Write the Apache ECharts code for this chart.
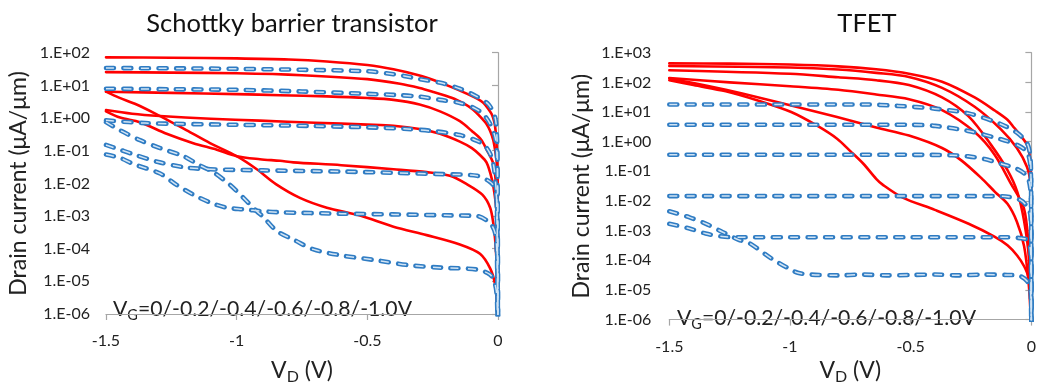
<!DOCTYPE html>
<html>
<head>
<meta charset="utf-8">
<script src="https://cdn.jsdelivr.net/npm/echarts@6/dist/echarts.min.js"></script>
<style>
html,body{margin:0;padding:0;background:#fff;}
#c{width:1039px;height:390px;}
</style>
</head>
<body>
<div id="c"></div>
<script>
// ---------- DATA (VD in volts, ID in µA/µm) ----------
const titles = ['Schottky barrier transistor', 'TFET'];
const xTicks = [-1.5, -1, -0.5, 0];

// Schottky barrier transistor - solid red
const sbRed1 = [[-1.5,72],[-1.25,70],[-1.0,67],[-0.8,62],[-0.655,54],[-0.5,42],[-0.4,31],[-0.3,20],[-0.247,14.5],[-0.18,9],[-0.12,5.6],[-0.08,3.9],[-0.056,2.9],[-0.035,1.8],[-0.024,1.3],[-0.015,0.8],[-0.011,0.55],[-0.006,0.2],[-0.003,0.05],[-0.001,0.005],[0,1e-7]];
const sbRed2 = [[-1.5,25.5],[-1.25,24.5],[-1.0,23.5],[-0.75,20.5],[-0.5,15.5],[-0.375,11.2],[-0.3,8.3],[-0.247,6.3],[-0.2,4.8],[-0.158,3.6],[-0.12,2.5],[-0.095,1.8],[-0.07,1.15],[-0.044,0.66],[-0.03,0.4],[-0.018,0.21],[-0.01,0.09],[-0.005,0.044],[-0.002,0.01],[0,1e-7]];
const sbRed3 = [[-1.5,6.4],[-1.25,5.9],[-1.0,5.4],[-0.834,5.0],[-0.655,4.6],[-0.5,4.1],[-0.4,3.6],[-0.3,2.6],[-0.222,1.6],[-0.146,0.8],[-0.1,0.4],[-0.065,0.22],[-0.044,0.11],[-0.018,0.04],[-0.008,0.01],[-0.003,0.002],[0,1e-7]];
const sbRed4 = [[-1.5,1.75],[-1.4,1.35],[-1.293,1.15],[-1.1,0.95],[-0.911,0.83],[-0.7,0.72],[-0.5,0.63],[-0.4,0.58],[-0.3,0.46],[-0.222,0.33],[-0.146,0.19],[-0.1,0.12],[-0.07,0.075],[-0.044,0.044],[-0.024,0.014],[-0.012,0.004],[-0.005,0.001],[0,1e-7]];
const sbRed5 = [[-1.5,1.6],[-1.446,1.03],[-1.37,0.74],[-1.268,0.33],[-1.166,0.17],[-1.076,0.107],[-1.0,0.068],[-0.911,0.055],[-0.834,0.049],[-0.783,0.044],[-0.6,0.036],[-0.4,0.027],[-0.273,0.022],[-0.184,0.017],[-0.12,0.0095],[-0.06,0.0045],[-0.03,0.0018],[-0.018,0.0006],[-0.011,0.00019],[-0.005,3e-5],[0,1e-7]];
const sbRed6 = [[-1.5,6.4],[-1.45,4.2],[-1.383,2.6],[-1.306,1.3],[-1.25,0.75],[-1.191,0.42],[-1.102,0.17],[-1.0,0.068],[-0.923,0.027],[-0.85,0.0095],[-0.758,0.0036],[-0.655,0.0018],[-0.528,0.00103],[-0.4,0.00047],[-0.273,0.00026],[-0.146,0.000135],[-0.069,7e-5],[-0.03,2.5e-5],[-0.011,8e-6],[-0.004,2e-6],[0,1e-7]];

// Schottky barrier transistor - dashed blue
const sbBlue1 = [[-1.5,34],[-1.2,33],[-1.0,32],[-0.75,30],[-0.5,27],[-0.4,22],[-0.36,19.5],[-0.3,15.5],[-0.22,12],[-0.146,7.9],[-0.08,4.5],[-0.036,2.6],[-0.011,1.04],[-0.004,0.26],[-0.002,0.05],[0,1e-7]];
const sbBlue2 = [[-1.5,7.9],[-1.25,7.6],[-1.0,7.3],[-0.75,6.5],[-0.5,5.5],[-0.375,5.0],[-0.3,4.5],[-0.222,3.6],[-0.146,2.9],[-0.095,2.1],[-0.056,1.3],[-0.03,0.66],[-0.011,0.26],[-0.005,0.1],[-0.002,0.02],[0,1e-7]];
const sbBlue3 = [[-1.5,0.85],[-1.35,0.7],[-1.0,0.62],[-0.7,0.57],[-0.5,0.52],[-0.36,0.47],[-0.25,0.4],[-0.146,0.3],[-0.08,0.2],[-0.05,0.14],[-0.03,0.08],[-0.018,0.04],[-0.011,0.015],[-0.005,0.003],[0,1e-7]];
const sbBlue4 = [[-1.5,0.15],[-1.45,0.11],[-1.4,0.08],[-1.3,0.045],[-1.2,0.031],[-1.1,0.027],[-0.9,0.025],[-0.6,0.023],[-0.4,0.021],[-0.2,0.019],[-0.08,0.017],[-0.03,0.011],[-0.011,0.007],[-0.004,0.002],[0,1e-7]];
const sbBlue5 = [[-1.5,0.076],[-1.446,0.06],[-1.395,0.039],[-1.293,0.02],[-1.23,0.009],[-1.166,0.0045],[-1.102,0.0026],[-1.038,0.0018],[-0.974,0.0016],[-0.9,0.0014],[-0.834,0.0013],[-0.6,0.00118],[-0.4,0.00112],[-0.2,0.00105],[-0.081,0.001],[-0.03,0.0006],[-0.011,0.0003],[-0.004,6e-5],[0,1e-7]];
const sbBlue6 = [[-1.5,0.75],[-1.446,0.42],[-1.37,0.21],[-1.293,0.12],[-1.204,0.068],[-1.14,0.035],[-1.089,0.022],[-1.025,0.0089],[-0.974,0.0036],[-0.923,0.0014],[-0.898,0.00093],[-0.847,0.00035],[-0.783,0.00019],[-0.706,9.5e-5],[-0.592,6.1e-5],[-0.464,4.4e-5],[-0.337,3.1e-5],[-0.209,2.6e-5],[-0.081,2.3e-5],[-0.03,1.6e-5],[-0.011,8e-6],[-0.004,3e-6],[0,1e-7]];

// TFET - solid red
const tfRed1 = [[-1.5,436],[-1.25,427],[-1.0,398],[-0.8,347],[-0.643,275],[-0.507,195],[-0.37,105],[-0.235,31],[-0.15,11],[-0.099,5.5],[-0.072,3.0],[-0.045,1.6],[-0.018,0.78],[-0.004,0.23],[-0.001,0.02],[0,1e-7]];
const tfRed2 = [[-1.5,355],[-1.0,316],[-0.8,270],[-0.643,209],[-0.507,152],[-0.37,65],[-0.235,15],[-0.126,2.6],[-0.06,0.61],[-0.018,0.14],[-0.004,0.04],[-0.001,0.005],[0,1e-7]];
const tfRed3 = [[-1.5,257],[-1.0,195],[-0.8,148],[-0.643,118],[-0.507,81],[-0.37,31],[-0.26,7.1],[-0.167,0.78],[-0.099,0.11],[-0.058,0.02],[-0.03,0.0021],[-0.01,0.00011],[0,1e-7]];
const tfRed4 = [[-1.5,141],[-1.25,100],[-1.0,74],[-0.8,56],[-0.643,39],[-0.507,27],[-0.37,11.5],[-0.235,2.1],[-0.153,0.37],[-0.086,0.04],[-0.031,0.0058],[-0.011,0.0003],[-0.004,2.6e-5],[0,1e-7]];
const tfRed5 = [[-1.5,135],[-1.4,95],[-1.266,56],[-1.13,31],[-0.995,16.6],[-0.805,6.8],[-0.643,3.0],[-0.507,1.6],[-0.37,0.61],[-0.289,0.23],[-0.208,0.06],[-0.15,0.02],[-0.099,0.008],[-0.06,0.002],[-0.03,0.0003],[-0.012,2e-5],[-0.004,2e-6],[0,1e-7]];
const tfRed6 = [[-1.5,118],[-1.4,81],[-1.266,50],[-1.13,24],[-0.995,10],[-0.886,3.4],[-0.805,1.26],[-0.75,0.48],[-0.696,0.18],[-0.643,0.056],[-0.615,0.035],[-0.533,0.013],[-0.4,0.005],[-0.26,0.0017],[-0.153,0.00063],[-0.099,0.00032],[-0.059,0.000145],[-0.03,6.3e-5],[-0.011,2.5e-5],[-0.004,5e-6],[0,1e-7]];

// TFET - dashed blue
const tfBlue1 = [[-1.5,18],[-1.0,18],[-0.7,18],[-0.55,16],[-0.4,13],[-0.26,9],[-0.13,4],[-0.06,2],[-0.018,0.9],[-0.004,0.3],[-0.001,0.03],[0,1e-7]];
const tfBlue2 = [[-1.5,3.7],[-1.0,3.7],[-0.5,3.7],[-0.398,3.4],[-0.262,2.3],[-0.126,1.2],[-0.059,0.78],[-0.018,0.45],[-0.004,0.15],[-0.001,0.02],[0,1e-7]];
const tfBlue3 = [[-1.5,0.36],[-1.0,0.36],[-0.5,0.36],[-0.33,0.35],[-0.262,0.32],[-0.194,0.26],[-0.126,0.18],[-0.059,0.12],[-0.018,0.068],[-0.004,0.025],[-0.001,0.004],[0,1e-7]];
const tfBlue4 = [[-1.5,0.0146],[-1.0,0.0146],[-0.5,0.0146],[-0.12,0.0145],[-0.045,0.0107],[-0.018,0.0065],[-0.004,0.0035],[-0.001,0.0008],[0,1e-7]];
const tfBlue5 = [[-1.5,0.0017],[-1.42,0.0012],[-1.35,0.0008],[-1.28,0.00063],[-1.226,0.0006],[-1.0,0.0006],[-0.5,0.0006],[-0.1,0.0006],[-0.04,0.00055],[-0.018,0.00049],[-0.004,0.00023],[-0.001,4e-5],[0,1e-7]];
const tfBlue6 = [[-1.5,0.0045],[-1.416,0.0028],[-1.348,0.0017],[-1.28,0.0009],[-1.212,0.00049],[-1.171,0.00039],[-1.077,0.000115],[-1.009,5.5e-5],[-0.968,3.8e-5],[-0.914,3.3e-5],[-0.8,3.1e-5],[-0.7,3.3e-5],[-0.6,3.1e-5],[-0.5,3.2e-5],[-0.4,3.3e-5],[-0.3,3.1e-5],[-0.2,3.3e-5],[-0.1,3.2e-5],[-0.05,3.0e-5],[-0.018,2e-5],[-0.004,1e-5],[-0.001,2e-6],[0,1e-7]];

const sbRed = [sbRed1, sbRed2, sbRed3, sbRed4, sbRed5, sbRed6];
const sbBlue = [sbBlue1, sbBlue2, sbBlue3, sbBlue4, sbBlue5, sbBlue6];
const tfRed = [tfRed1, tfRed2, tfRed3, tfRed4, tfRed5, tfRed6];
const tfBlue = [tfBlue1, tfBlue2, tfBlue3, tfBlue4, tfBlue5, tfBlue6];

// ---------- CHART ----------
const FONT = 'Lato, "Open Sans", sans-serif';
const RED = '#ff0000';
const BLUE = '#2f7cc3';
const BLUE_IN = '#d2e4f4';
const DASH = [8, 9.5];
const SMOOTH = 0.3;

function sci(v) {
  const e = Math.round(Math.log10(v));
  const a = Math.abs(e);
  return '1.E' + (e < 0 ? '-' : '+') + (a < 10 ? '0' : '') + a;
}

function redSeries(data, idx) {
  return {
    type: 'line', xAxisIndex: idx, yAxisIndex: idx, data: data,
    showSymbol: false, symbol: 'none', smooth: SMOOTH,
    lineStyle: { color: RED, width: 2.6, cap: 'round', join: 'round' },
    silent: true, z: 2, clip: true
  };
}
function blueSeries(data, idx) {
  return [{
    type: 'line', xAxisIndex: idx, yAxisIndex: idx, data: data,
    showSymbol: false, symbol: 'none', smooth: SMOOTH,
    lineStyle: { color: BLUE, width: 4.6, type: DASH, cap: 'round', join: 'round' },
    silent: true, z: 3, clip: true
  }, {
    type: 'line', xAxisIndex: idx, yAxisIndex: idx, data: data,
    showSymbol: false, symbol: 'none', smooth: SMOOTH,
    lineStyle: { color: BLUE_IN, width: 1.5, type: DASH, cap: 'butt', join: 'round' },
    silent: true, z: 4, clip: true
  }];
}

const axisLineStyle = { show: true, lineStyle: { color: '#a6a6a6', width: 1.2 } };
const axisTickStyle = { show: true, length: 6, lineStyle: { color: '#a6a6a6', width: 1.2 } };

function xAxis(idx, gap) {
  return {
    type: 'value', gridIndex: idx, min: -1.5, max: 0, interval: 0.5,
    axisLine: axisLineStyle, axisTick: axisTickStyle,
    splitLine: { show: false },
    axisLabel: { fontFamily: FONT, fontSize: 16, color: '#222', margin: 19,
      formatter: v => String(xTicks.find(t => Math.abs(t - v) < 1e-9) ?? v) },
    name: '{n|V}{s|D}{n| (V)}', nameLocation: 'middle', nameGap: gap,
    nameTextStyle: { rich: {
      n: { fontFamily: FONT, fontSize: 23, color: '#222', lineHeight: 28 },
      s: { fontFamily: FONT, fontSize: 16, color: '#222', lineHeight: 15, verticalAlign: 'bottom' }
    } }
  };
}
function yAxis(idx, min, max, gap, margin) {
  return {
    type: 'log', logBase: 10, gridIndex: idx, min: min, max: max,
    axisLine: axisLineStyle, axisTick: axisTickStyle,
    splitLine: { show: false }, minorTick: { show: false },
    axisLabel: { fontFamily: FONT, fontSize: 16, color: '#222', margin: margin, formatter: sci },
    name: 'Drain current (μA/μm)', nameLocation: 'middle', nameGap: gap,
    nameTextStyle: { fontFamily: FONT, fontSize: 23, color: '#222' }
  };
}

const series = [];
sbRed.forEach(d => series.push(redSeries(d, 0)));
tfRed.forEach(d => series.push(redSeries(d, 1)));
sbBlue.forEach(d => series.push(...blueSeries(d, 0)));
tfBlue.forEach(d => series.push(...blueSeries(d, 1)));

const annRich = {
  n: { fontFamily: FONT, fontSize: 21.2, fill: '#222', lineHeight: 26 },
  s: { fontFamily: FONT, fontSize: 14.5, fill: '#222', lineHeight: 14, verticalAlign: 'bottom' }
};

const chart = echarts.init(document.getElementById('c'), null, { renderer: 'canvas' });
chart.setOption({
  animation: false,
  backgroundColor: '#ffffff',
  title: [
    { text: titles[0], left: 287, top: 6, textAlign: 'center',
      textStyle: { fontFamily: FONT, fontSize: 25.5, fontWeight: 'normal', color: '#111' } },
    { text: titles[1], left: 862, top: 6, textAlign: 'center',
      textStyle: { fontFamily: FONT, fontSize: 25.5, fontWeight: 'normal', color: '#111' } }
  ],
  grid: [
    { left: 106, top: 52.7, width: 392, height: 270.6, containLabel: false },
    { left: 669.3, top: 52.7, width: 368.4, height: 281.6, containLabel: false }
  ],
  xAxis: [xAxis(0, 43), xAxis(1, 35)],
  yAxis: [yAxis(0, 1e-6, 1e2, 76, 16), yAxis(1, 1e-6, 1e3, 76, 18)],
  graphic: [
    { type: 'text', left: 113, top: 299, silent: true,
      style: { text: '{n|V}{s|G}{n|=0/-0.2/-0.4/-0.6/-0.8/-1.0V}', rich: annRich } },
    { type: 'text', left: 677, top: 308, silent: true,
      style: { text: '{n|V}{s|G}{n|=0/-0.2/-0.4/-0.6/-0.8/-1.0V}', rich: annRich } }
  ],
  series: series
});
</script>
</body>
</html>
